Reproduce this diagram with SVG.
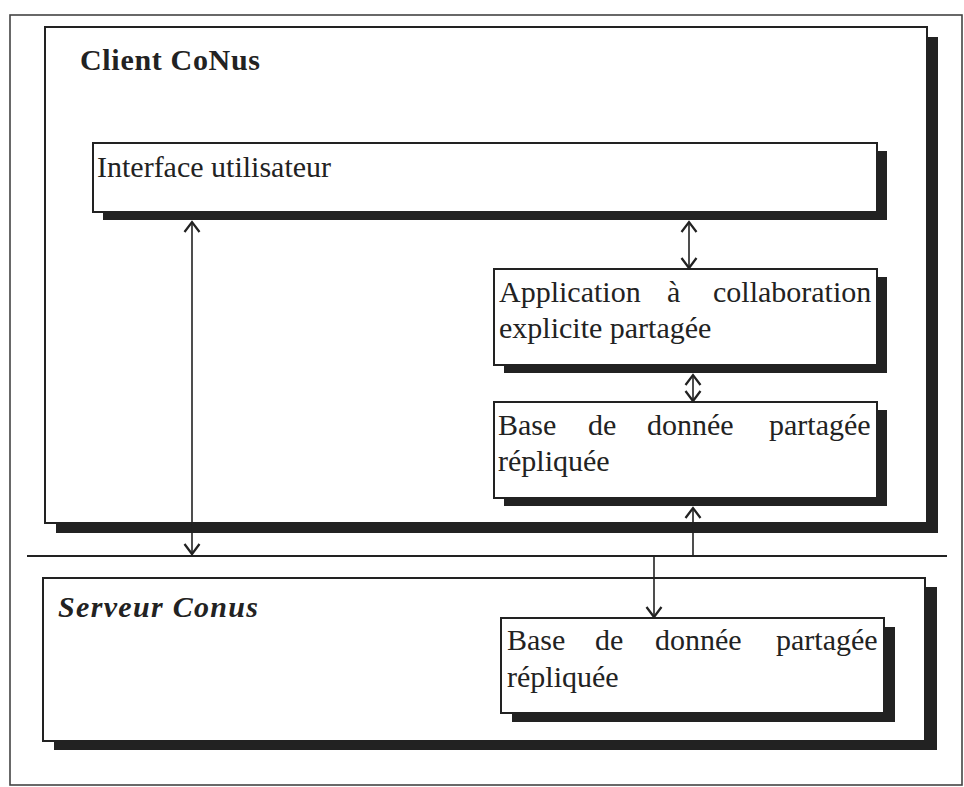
<svg xmlns="http://www.w3.org/2000/svg" width="964" height="787" viewBox="0 0 964 787">
<style>
.box{fill:#fff;stroke:#222;stroke-width:2}
.sh{fill:#222}
.t{font-family:"Liberation Serif","Times New Roman",serif;font-size:30px;fill:#222}
.con{stroke:#222;stroke-width:1.6;fill:none}
</style>
<defs>
<marker id="ah" markerUnits="userSpaceOnUse" markerWidth="20" markerHeight="20" refX="0" refY="0" viewBox="-10 -8 12 16" orient="auto-start-reverse">
<path d="M-8,-6 L0,0 L-8,6" fill="none" stroke="#222" stroke-width="1.8"/>
</marker>
</defs>
<rect width="964" height="787" fill="#fff"/>
<rect x="10" y="15" width="952" height="770" fill="none" stroke="#444" stroke-width="1.6"/>

<g id="client">
<rect class="sh" x="56" y="37" width="882" height="496"/>
<rect class="box" x="45" y="27" width="882" height="496"/>
<text class="t" x="80" y="70" font-weight="bold" textLength="180">Client CoNus</text>
</g>

<g id="interface">
<rect class="sh" x="103" y="151" width="784" height="69"/>
<rect class="box" x="93" y="143" width="784" height="69"/>
<text class="t" x="97" y="177">Interface utilisateur</text>
</g>

<g id="application">
<rect class="sh" x="504" y="277" width="383" height="96"/>
<rect class="box" x="494" y="269" width="383" height="96"/>
<text class="t" y="302"><tspan x="499">Application</tspan><tspan x="667">à</tspan><tspan x="713">collaboration</tspan></text>
<text class="t" x="499" y="338">explicite partagée</text>
</g>

<g id="base-client">
<rect class="sh" x="504" y="410" width="383" height="96"/>
<rect class="box" x="494" y="402" width="383" height="96"/>
<text class="t" y="435"><tspan x="498">Base</tspan><tspan x="588">de</tspan><tspan x="647">donnée</tspan><tspan x="769">partagée</tspan></text>
<text class="t" x="498" y="471">répliquée</text>
</g>

<g id="serveur">
<rect class="sh" x="54" y="587" width="883" height="163"/>
<rect class="box" x="43" y="578" width="882" height="163"/>
<text class="t" x="58" y="617" font-weight="bold" font-style="italic" textLength="200">Serveur Conus</text>
</g>

<g id="base-serveur">
<rect class="sh" x="512" y="627" width="383" height="95"/>
<rect class="box" x="501" y="618" width="383" height="95"/>
<text class="t" y="650"><tspan x="507">Base</tspan><tspan x="595">de</tspan><tspan x="655">donnée</tspan><tspan x="776">partagée</tspan></text>
<text class="t" x="507" y="687">répliquée</text>
</g>

<g id="connectors">
<line x1="27" y1="556" x2="947" y2="556" stroke="#222" stroke-width="2"/>
<line class="con" x1="192" y1="222" x2="192" y2="554" marker-start="url(#ah)" marker-end="url(#ah)"/>
<line class="con" x1="689" y1="222" x2="689" y2="268" marker-start="url(#ah)" marker-end="url(#ah)"/>
<line class="con" x1="693" y1="375" x2="693" y2="401" marker-start="url(#ah)" marker-end="url(#ah)"/>
<line class="con" x1="693" y1="556" x2="693" y2="508" marker-end="url(#ah)"/>
<line class="con" x1="654" y1="556" x2="654" y2="617" marker-end="url(#ah)"/>
</g>
</svg>
